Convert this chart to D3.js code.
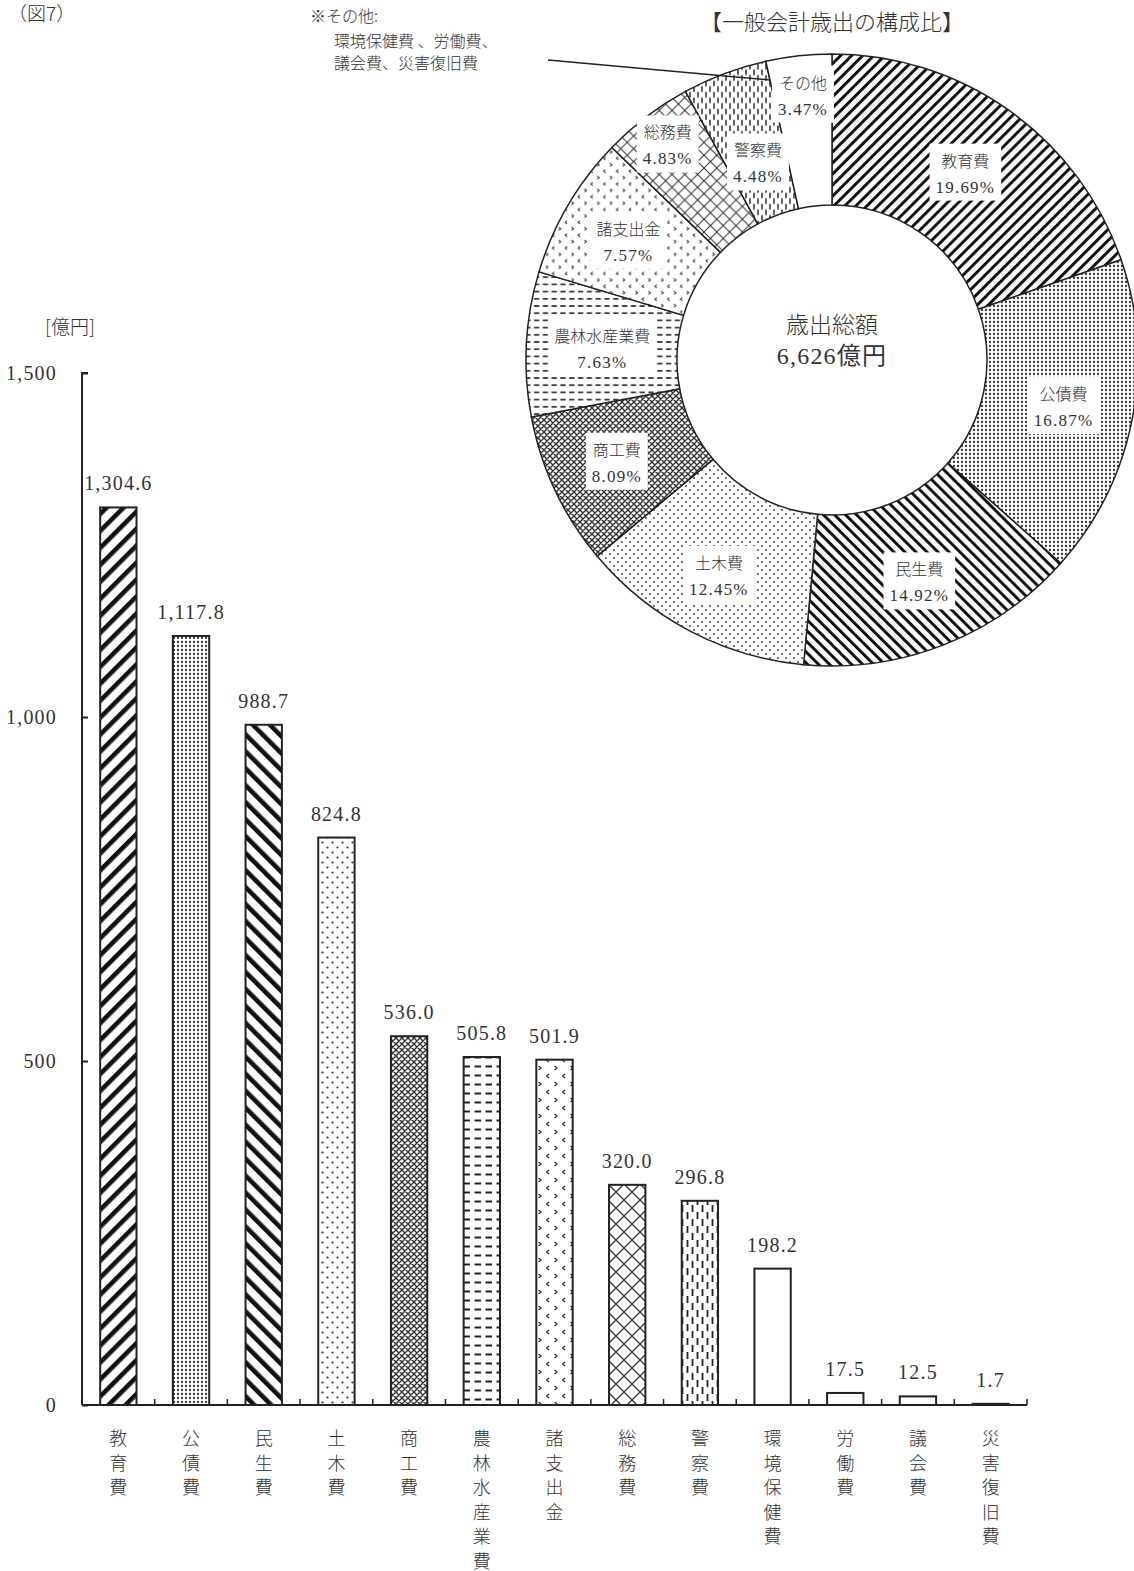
<!DOCTYPE html>
<html><head><meta charset="utf-8">
<script src="https://cdn.jsdelivr.net/npm/d3@7"></script>
<style>
body{margin:0;background:#fff;}
svg text{font-family:"Liberation Serif","Noto Sans CJK JP",serif;fill:#333;}
svg text.jp{font-family:"Noto Sans CJK JP",sans-serif;font-weight:300;}
svg text.num{letter-spacing:1.2px;}
</style></head><body>
<svg id="c" width="1134" height="1571"></svg>
<script>
// ---------- data ----------
const categories = ["教育費","公債費","民生費","土木費","商工費","農林水産業費","諸支出金","総務費","警察費","環境保健費","労働費","議会費","災害復旧費"];
const amounts = [1304.6,1117.8,988.7,824.8,536.0,505.8,501.9,320.0,296.8,198.2,17.5,12.5,1.7];
const yTicks = [0,500,1000,1500];
const pieCategories = ["教育費","公債費","民生費","土木費","商工費","農林水産業費","諸支出金","総務費","警察費","その他"];
const pieShares = [19.69,16.87,14.92,12.45,8.09,7.63,7.57,4.83,4.48,3.47];
const pieTotal = "6,626億円";
const otherNote = ["※その他:","環境保健費 、労働費、","議会費、災害復旧費"];

// ---------- styles ----------
const patternOf = {"教育費":"edu","公債費":"kou","民生費":"min","土木費":"dob","商工費":"sho","農林水産業費":"nor","諸支出金":"shi","総務費":"som","警察費":"kei"};
const labelRadius = {"公債費":236,"民生費":238,"土木費":243,"商工費":238,"諸支出金":236,"総務費":271,"警察費":211,"その他":267};

const svg = d3.select("#c");
const defs = svg.append("defs");
function pat(id,w,h,tr,draw){
  const p = defs.append("pattern").attr("id",id).attr("patternUnits","userSpaceOnUse")
    .attr("width",w).attr("height",h);
  if(tr) p.attr("patternTransform",tr);
  p.append("rect").attr("width",w).attr("height",h).attr("fill","#fff");
  draw(p);
}
function makePatterns(sfx, sDiag, sOther){
  pat("edu"+sfx,12,12,`rotate(45) scale(${sDiag})`,p=>p.append("rect").attr("width",4.6).attr("height",12).attr("fill","#111"));
  pat("min"+sfx,12,12,`rotate(-45) scale(${sDiag})`,p=>p.append("rect").attr("width",4.6).attr("height",12).attr("fill","#111"));
  pat("kou"+sfx,4,4,null,p=>p.append("circle").attr("cx",2).attr("cy",2).attr("r",1.15).attr("fill","#333"));
  pat("dob"+sfx,10,10,`scale(${sOther})`,p=>{
    p.append("circle").attr("cx",2.5).attr("cy",2.5).attr("r",1.1).attr("fill","#333");
    p.append("circle").attr("cx",7.5).attr("cy",7.5).attr("r",1.1).attr("fill","#333");
  });
  pat("sho"+sfx,6,6,null,p=>{
    p.append("path").attr("d","M0,0L6,6M6,0L0,6M-1,5L1,7M5,-1L7,1").attr("stroke","#333").attr("stroke-width",1.4).attr("fill","none");
  });
  pat("nor"+sfx,11,9,`scale(${sOther})`,p=>p.append("line").attr("x1",1.5).attr("x2",8).attr("y1",4.5).attr("y2",4.5).attr("stroke","#222").attr("stroke-width",2));
  pat("shi"+sfx,16,16,`scale(${sOther})`,p=>{
    p.append("path").attr("d","M5,2L2.5,4L5,6").attr("stroke","#333").attr("stroke-width",1.3).attr("fill","none");
    p.append("path").attr("d","M10.5,10L13,12L10.5,14").attr("stroke","#333").attr("stroke-width",1.3).attr("fill","none");
  });
  pat("som"+sfx,16,16,`scale(${sOther})`,p=>p.append("path").attr("d","M0,0L16,16M16,0L0,16").attr("stroke","#333").attr("stroke-width",1.3).attr("fill","none"));
  pat("kei"+sfx,10,14,`scale(${sOther})`,p=>{
    p.append("line").attr("x1",2.5).attr("x2",2.5).attr("y1",1).attr("y2",8).attr("stroke","#222").attr("stroke-width",1.8);
    p.append("line").attr("x1",7.5).attr("x2",7.5).attr("y1",8).attr("y2",14).attr("stroke","#222").attr("stroke-width",1.8);
    p.append("line").attr("x1",7.5).attr("x2",7.5).attr("y1",0).attr("y2",1).attr("stroke","#222").attr("stroke-width",1.8);
  });
}
makePatterns("B",1,1);
makePatterns("P",0.65,0.8);
const fillFor = (name,sfx)=> patternOf[name] ? `url(#${patternOf[name]}${sfx})` : "#fff";

// ---------- header texts ----------
svg.append("text").attr("class","jp").attr("x",8).attr("y",21).attr("font-size",19).text("（図7）");
const note = svg.append("g");
note.append("text").attr("class","jp").attr("x",310).attr("y",22).attr("font-size",16).text(otherNote[0]);
note.append("text").attr("class","jp").attr("x",334).attr("y",47).attr("font-size",16).text(otherNote[1]);
note.append("text").attr("class","jp").attr("x",334).attr("y",69).attr("font-size",16).text(otherNote[2]);

// ---------- bar chart ----------
const x = d3.scaleBand().domain(categories).range([82,1027]).paddingInner(0.5).paddingOuter(0.25);
const y = d3.scaleLinear().domain([0,1500]).range([1405,373]);
const fmt = d3.format(",.1f");

svg.append("text").attr("class","jp").attr("x",70).attr("y",334).attr("text-anchor","middle").attr("font-size",19).text("[億円]");

const bars = svg.append("g");
bars.selectAll("rect").data(categories).join("rect")
  .attr("x",d=>x(d)).attr("width",x.bandwidth())
  .attr("y",(d,i)=>y(amounts[i])).attr("height",(d,i)=>y(0)-y(amounts[i]))
  .attr("fill",d=>fillFor(d,"B")).attr("stroke","#222").attr("stroke-width",2);
bars.selectAll("text.val").data(categories).join("text").attr("class","val num")
  .attr("x",d=>x(d)+x.bandwidth()/2).attr("y",(d,i)=>y(amounts[i])-17)
  .attr("text-anchor","middle").attr("font-size",20).text((d,i)=>fmt(amounts[i]));

// y axis
const yAxis = svg.append("g").attr("transform","translate(82,0)")
  .call(d3.axisRight(y).tickValues(yTicks).tickSize(6).tickFormat(""));
yAxis.select(".domain").attr("stroke","#222").attr("stroke-width",2).attr("d",`M6,${y(1500)}H0V${y(0)}`);
yAxis.selectAll(".tick line").attr("stroke","#222").attr("stroke-width",2);
svg.append("g").selectAll("text").data(yTicks).join("text").attr("class","num")
  .attr("x",57).attr("y",d=>y(d)+7).attr("text-anchor","end").attr("font-size",20)
  .text(d=>d3.format(",")(d));

// x axis
const xAxis = svg.append("g").attr("transform",`translate(0,${y(0)})`);
xAxis.append("line").attr("x1",82).attr("x2",1027).attr("stroke","#222").attr("stroke-width",2);
const boundaries = categories.map((d,i)=> x(d) + x.bandwidth() + x.step()*x.paddingInner()/2 );
xAxis.selectAll("line.tk").data(boundaries).join("line").attr("class","tk")
  .attr("x1",d=>d).attr("x2",d=>d).attr("y1",0).attr("y2",-6).attr("stroke","#222").attr("stroke-width",1.5);
const catG = svg.append("g");
categories.forEach(c=>{
  [...c].forEach((ch,j)=>{
    catG.append("text").attr("class","jp").attr("x",x(c)+x.bandwidth()/2).attr("y",1445+j*24.5)
      .attr("text-anchor","middle").attr("font-size",18).text(ch);
  });
});

// ---------- donut ----------
const cx=832, cy=360, R=306, r0=155;
svg.append("text").attr("class","jp").attr("x",cx).attr("y",30).attr("text-anchor","middle").attr("font-size",22).text("【一般会計歳出の構成比】");
const pie = d3.pie().sort(null).value(d=>d.v);
const arcs = pie(pieCategories.map((c,i)=>({c, v:pieShares[i]})));
const arc = d3.arc().innerRadius(r0).outerRadius(R);
const dg = svg.append("g").attr("transform",`translate(${cx},${cy})`);
dg.selectAll("path").data(arcs).join("path").attr("d",arc)
  .attr("fill",d=>fillFor(d.data.c,"P")).attr("stroke","#222").attr("stroke-width",1.5);

// note leader line
svg.append("line").attr("x1",548).attr("y1",60).attr("x2",770).attr("y2",80).attr("stroke","#222").attr("stroke-width",1.5);

// labels
arcs.forEach(a=>{
  const ang=(a.startAngle+a.endAngle)/2;
  const rr = labelRadius[a.data.c] || 230;
  const lx = Math.sin(ang)*rr, ly = -Math.cos(ang)*rr;
  const g = dg.append("g").attr("transform",`translate(${lx},${ly})`);
  const bg = g.append("rect").attr("fill","#fff");
  const t1 = g.append("text").attr("class","jp").attr("text-anchor","middle").attr("y",-6).attr("font-size",16).text(a.data.c);
  const t2 = g.append("text").attr("class","num").attr("text-anchor","middle").attr("y",20).attr("font-size",17).text(a.data.v.toFixed(2)+"%");
  const w = Math.max(t1.node().getComputedTextLength(), t2.node().getComputedTextLength())+12;
  bg.attr("x",-w/2).attr("y",-29).attr("width",w).attr("height",57);
});
dg.append("text").attr("class","jp").attr("text-anchor","middle").attr("y",-27).attr("font-size",23).text("歳出総額");
dg.append("text").attr("class","num").attr("text-anchor","middle").attr("y",4).attr("font-size",24).text(pieTotal);
</script>
</body></html>
